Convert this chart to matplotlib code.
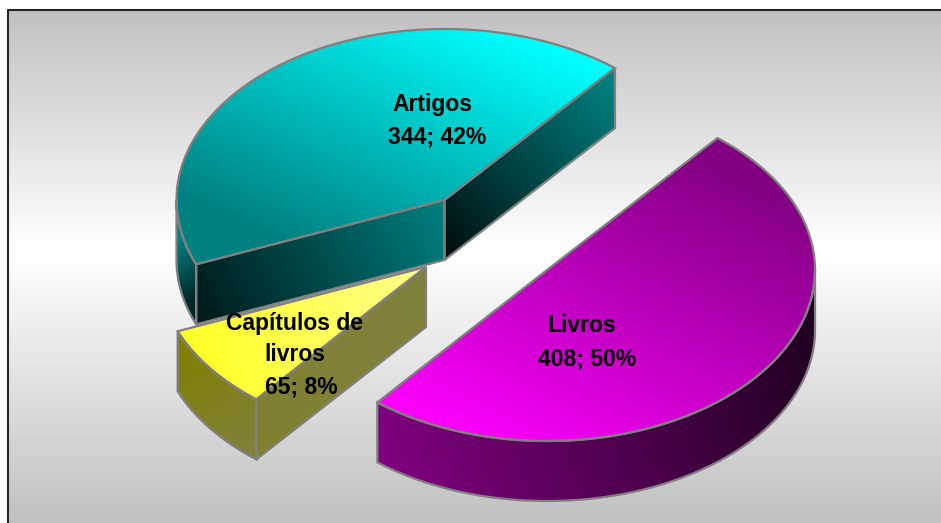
import numpy as np
import matplotlib
matplotlib.use("Agg")
import matplotlib.pyplot as plt
from matplotlib.patches import Polygon, Rectangle

plt.rcParams['font.family'] = ['Liberation Sans', 'DejaVu Sans']

# dados do grafico
categorias = ['Artigos', 'Capítulos de\nlivros', 'Livros']
valores = [344, 65, 408]

W, H = 941, 523
RX, RY = 268, 171      # elipse do topo
DEPTH = 60
START = 50.5           # angulo inicial (graus), sentido anti-horario
EDGE = '#808080'

# centro de cada fatia (explodida)
centros = [(444.5, 200), (426, 267), (547, 270)]
nome_pos = [(432, 104), (295, 339), (582, 326)]
valor_pos = [(437, 137), (301, 387), (587, 359)]

fig = plt.figure(figsize=(W / 100, H / 100), dpi=100)
ax = fig.add_axes([0, 0, 1, 1])
ax.set_xlim(0, W)
ax.set_ylim(H, 0)
ax.axis('off')

yy, xx = np.mgrid[0:H, 0:W]


def lerp_img(p0, p1, c0, c1):
    # gradiente linear de p0 (cor c0) ate p1 (cor c1)
    d = np.array(p1, float) - np.array(p0, float)
    t = ((xx - p0[0]) * d[0] + (yy - p0[1]) * d[1]) / (d @ d)
    t = np.clip(t, 0, 1)[..., None]
    return (np.array(c0) * (1 - t) + np.array(c1) * t) / 255


def face(pts, p0, p1, c0, c1):
    poly = Polygon(pts, closed=True, fc='none', ec=EDGE, lw=1.6, joinstyle='miter', zorder=3)
    ax.add_patch(poly)
    im = ax.imshow(lerp_img(p0, p1, c0, c1), extent=(0, W, H, 0), aspect='auto', zorder=2,
                   interpolation='bilinear')
    im.set_clip_path(Polygon(pts, closed=True, transform=ax.transData))


def arco(c, a0, a1, dy=0):
    t = np.radians(np.linspace(a0, a1, 120))
    return np.column_stack([c[0] + RX * np.cos(t), c[1] - RY * np.sin(t) + dy])


def lateral(c, a0, a1):
    return np.vstack([arco(c, a0, a1), arco(c, a1, a0, DEPTH)])


def corte(c, a):
    p = arco(c, a, a)[0]
    return np.array([c, p, p + [0, DEPTH], (c[0], c[1] + DEPTH)])


# fundo
bg = np.interp(np.arange(H), [9, 250, 523], [192, 255, 192])
ax.imshow(np.repeat(bg[:, None], W, axis=1), cmap='gray', vmin=0, vmax=255,
          extent=(0, W, H, 0), aspect='auto', zorder=0)
ax.add_patch(Rectangle((-2, -2), 9.5, H + 4, fc='white', ec='none', zorder=1))
ax.add_patch(Rectangle((-2, -2), W + 4, 11, fc='white', ec='none', zorder=1))
ax.plot([8, 8, W + 2], [H + 2, 9.5, 9.5], color='#262626', lw=1.5, zorder=1.5)

# angulos a partir dos valores
total = sum(valores)
a_art = START + 360 * valores[0] / total
a_cap = a_art + 360 * valores[1] / total
a_liv = a_cap + 360 * valores[2] / total

c_art, c_cap, c_liv = centros

# Artigos
face(lateral(c_art, 180, a_art), (176, 240), (205, 290), (0, 128, 128), (0, 40, 40))
face(corte(c_art, a_art), (443, 200), (197, 324), (0, 128, 128), (0, 24, 24))
face(corte(c_art, START), (620, 90), (445, 250), (0, 128, 128), (0, 15, 15))
face(np.vstack([[c_art], arco(c_art, START, a_art)]), (190, 200), (306, -61), (0, 128, 128), (0, 255, 255))

# Capitulos de livros
face(lateral(c_cap, a_art, a_cap), (180, 340), (255, 458), (128, 128, 0), (128, 128, 64))
face(corte(c_cap, a_cap), (255, 458), (427, 267), (128, 128, 48), (128, 128, 64))
face(np.vstack([[c_cap], arco(c_cap, a_art, a_cap)]), (190, 340), (427, 267), (255, 255, 40), (255, 255, 140))

# Livros
face(lateral(c_liv, a_cap, 360), (376, 430), (815, 300), (128, 0, 128), (30, 0, 30))
face(np.vstack([[c_liv], arco(c_liv, a_cap, a_liv)]), (376, 402), (543, 69), (255, 0, 255), (128, 0, 128))

# rotulos
for nome, v, pn, pv in zip(categorias, valores, nome_pos, valor_pos):
    ax.text(pn[0], pn[1], nome, ha='center', va='center', fontsize=16.5, fontweight='bold',
            color='black', linespacing=1.42, zorder=5)
    ax.text(pv[0], pv[1], f"{v}; {round(100 * v / total)}%", ha='center', va='center',
            fontsize=16.5, fontweight='bold', color='black', zorder=5)

ax.set_xlim(0, W)
ax.set_ylim(H, 0)
fig.savefig('out.png', dpi=100)
